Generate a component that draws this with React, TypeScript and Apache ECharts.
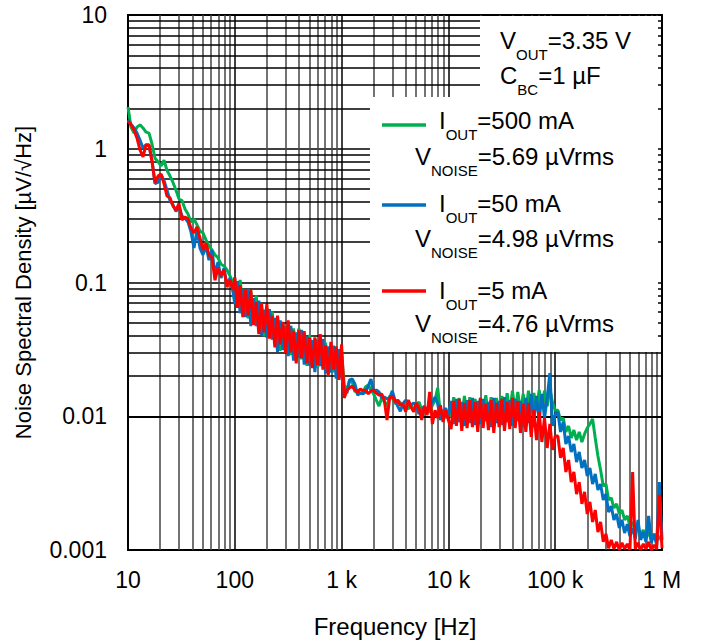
import React, { useEffect, useRef } from "react";
import * as echarts from "echarts";

// Frequency grid [Hz]
const FREQ_HZ = [
  10, 10.67, 11.38, 12.14, 12.95, 13.82, 14.74, 15.73, 16.78, 17.9, 19.1, 20.37, 21.73, 23.18, 24.73, 26.38, 28.15, 30.03, 32.03, 34.17, 36.45, 38.89, 41.49, 44.26, 47.22, 50.37, 53.74, 57.33, 61.16, 65.24, 69.6, 74.25, 79.21, 84.5, 90.15, 96.17,
  100, 105.9, 112.2, 118.9, 125.9, 133.4, 141.3, 149.6, 158.5, 167.9, 177.8, 188.4, 199.5, 211.3, 223.9, 237.1, 251.2, 266.1, 281.8, 298.5, 316.2, 335, 354.8, 375.8, 398.1, 421.7, 446.7, 473.2, 501.2, 530.9, 562.3, 595.7, 631, 668.3, 707.9, 749.9, 794.3, 841.4, 891.3, 944.1, 1000,
  1059, 1122, 1189, 1259, 1334, 1413, 1496, 1585, 1679, 1778, 1884, 1995, 2113, 2239, 2371, 2512, 2661, 2818, 2985, 3162, 3350, 3548, 3758, 3981, 4217, 4467, 4732, 5012, 5309, 5623, 5957, 6310, 6683, 7079, 7499, 7943, 8414, 8913, 9441, 10000,
  10590, 11220, 11890, 12590, 13340, 14130, 14960, 15850, 16790, 17780, 18840, 19950, 21130, 22390, 23710, 25120, 26610, 28180, 29850, 31620, 33500, 35480, 37580, 39810, 42170, 44670, 47320, 50120, 53090, 56230, 59570, 63100, 66830, 70790, 74990, 79430, 84140, 89130, 94410, 100000,
  105900, 112200, 118900, 125900, 133400, 141300, 149600, 158500, 167900, 177800, 188400, 199500, 211300, 223900, 237100, 251200, 266100, 281800, 298500, 316200, 335000, 354800, 375800, 398100, 421700, 446700, 473200, 501200, 530900, 562300, 595700, 631000, 668300, 707900, 749900, 794300, 841400, 891300, 944100, 1000000,
];

// Noise spectral density [µV/√Hz], IOUT = 500 mA
const NOISE_500MA = [
  2.05, 1.45, 1.31, 1.45, 1.51, 1.43, 1.33, 1.31, 1.085, 0.85, 0.8, 0.743, 0.82, 0.69, 0.625, 0.56, 0.49, 0.421, 0.41, 0.355, 0.325, 0.283, 0.298, 0.27, 0.243, 0.235, 0.208, 0.187, 0.175, 0.161, 0.153, 0.137, 0.133, 0.124, 0.112, 0.099,
  0.1069, 0.0692, 0.1047, 0.0647, 0.0893, 0.054, 0.0857, 0.0528, 0.0802, 0.0461, 0.0668, 0.0395, 0.0644, 0.0418, 0.0607, 0.0351, 0.054, 0.0308, 0.0495, 0.0324, 0.0499, 0.0286, 0.0454, 0.0299, 0.0453, 0.0266, 0.0394, 0.0238, 0.0406, 0.0256, 0.038, 0.0231, 0.0385, 0.0244, 0.0355, 0.021, 0.0336, 0.0213, 0.0332, 0.0215, 0.0299,
  0.0171, 0.0157, 0.0187, 0.018, 0.0152, 0.0157, 0.0147, 0.0152, 0.0166, 0.0171, 0.0157, 0.0147, 0.0132, 0.0119, 0.0137, 0.0128, 0.0119, 0.0142, 0.0137, 0.0124, 0.0132, 0.0126, 0.0117, 0.0121, 0.0113, 0.0124, 0.0111, 0.0119, 0.0128, 0.0113, 0.0108, 0.0115, 0.0106, 0.0121, 0.0132, 0.0163, 0.0104, 0.0111, 0.0097, 0.0108,
  0.00986, 0.0139, 0.00953, 0.0137, 0.0097, 0.0142, 0.01, 0.0139, 0.00953, 0.0135, 0.00937, 0.0137, 0.00986, 0.0144, 0.01, 0.0139, 0.0097, 0.0137, 0.0102, 0.0142, 0.0104, 0.0149, 0.0106, 0.0155, 0.0108, 0.0152, 0.0106, 0.0147, 0.0109, 0.0155, 0.0108, 0.0149, 0.0111, 0.0157, 0.0115, 0.0155, 0.0119, 0.016, 0.0126, 0.0111,
  0.0111, 0.00937, 0.0097, 0.00763, 0.00846, 0.00688, 0.00789, 0.00664, 0.00763, 0.00642, 0.00737, 0.00817, 0.00875, 0.00953, 0.00688, 0.00505, 0.00396, 0.00301, 0.00311, 0.00237, 0.00245, 0.00206, 0.00221, 0.00186, 0.00199, 0.00168, 0.0018, 0.00151, 0.00162, 0.00136, 0.00149, 0.00129, 0.00141, 0.00123, 0.00136, 0.00119, 0.00132, 0.00117, 0.00127, 0.00115,
];

// IOUT = 50 mA
const NOISE_50MA = [
  1.64, 1.53, 1.43, 1.31, 1.16, 1.01, 1.07, 1.05, 0.82, 0.55, 0.56, 0.64, 0.58, 0.49, 0.41, 0.38, 0.34, 0.37, 0.315, 0.303, 0.283, 0.239, 0.181, 0.247, 0.181, 0.161, 0.187, 0.147, 0.175, 0.114, 0.142, 0.108, 0.128, 0.096, 0.108, 0.085,
  0.069, 0.1023, 0.0589, 0.0893, 0.0551, 0.0895, 0.0471, 0.0764, 0.0472, 0.0731, 0.0403, 0.0627, 0.0388, 0.0632, 0.0374, 0.0543, 0.0303, 0.0522, 0.0313, 0.0469, 0.0281, 0.0475, 0.0261, 0.0423, 0.0273, 0.0442, 0.0243, 0.0395, 0.0239, 0.0371, 0.0214, 0.0374, 0.0237, 0.0378, 0.0209, 0.0333, 0.0212, 0.0337, 0.0191, 0.0318, 0.0198,
  0.0157, 0.0149, 0.0187, 0.019, 0.0174, 0.0144, 0.0149, 0.0147, 0.0152, 0.0168, 0.019, 0.0152, 0.0157, 0.0152, 0.0137, 0.0139, 0.0135, 0.0137, 0.0155, 0.0132, 0.0119, 0.0109, 0.0124, 0.0132, 0.0128, 0.0121, 0.0126, 0.0119, 0.0104, 0.0111, 0.0119, 0.0108, 0.0117, 0.0128, 0.0139, 0.0124, 0.00937, 0.0108, 0.0115, 0.01,
  0.013, 0.00875, 0.0135, 0.00906, 0.0128, 0.00846, 0.0132, 0.0089, 0.0137, 0.0086, 0.013, 0.00875, 0.0135, 0.00921, 0.0128, 0.00831, 0.0137, 0.0089, 0.013, 0.0086, 0.0139, 0.00906, 0.0132, 0.00846, 0.0135, 0.00921, 0.013, 0.00831, 0.0137, 0.0089, 0.0147, 0.00937, 0.0142, 0.00921, 0.0147, 0.0097, 0.0137, 0.021, 0.00846, 0.0102,
  0.0108, 0.00763, 0.00906, 0.0062, 0.00712, 0.00541, 0.0062, 0.00455, 0.00541, 0.0041, 0.00471, 0.00357, 0.0041, 0.00311, 0.0037, 0.00281, 0.00311, 0.00237, 0.00262, 0.00192, 0.00213, 0.00168, 0.00186, 0.00146, 0.00168, 0.00134, 0.00156, 0.00127, 0.00146, 0.00121, 0.00168, 0.00119, 0.00136, 0.00115, 0.0018, 0.00113, 0.00132, 0.00109, 0.00322, 0.00119,
];

// IOUT = 5 mA
const NOISE_5MA = [
  1.61, 1.51, 1.38, 1.2, 0.98, 0.868, 1.07, 1.07, 0.8, 0.56, 0.625, 0.647, 0.55, 0.443, 0.43, 0.373, 0.348, 0.39, 0.293, 0.309, 0.298, 0.255, 0.235, 0.26, 0.215, 0.175, 0.197, 0.161, 0.153, 0.104, 0.128, 0.112, 0.124, 0.0925, 0.104, 0.088,
  0.1094, 0.0646, 0.0955, 0.0551, 0.0893, 0.0565, 0.0877, 0.0482, 0.0714, 0.0411, 0.07, 0.0424, 0.069, 0.0381, 0.0566, 0.0327, 0.0565, 0.0345, 0.0507, 0.0296, 0.0522, 0.03, 0.0434, 0.0249, 0.0443, 0.0272, 0.0433, 0.0249, 0.0387, 0.0229, 0.0389, 0.0242, 0.0412, 0.0223, 0.0339, 0.0201, 0.036, 0.0223, 0.0332, 0.0187, 0.0344,
  0.0137, 0.0157, 0.0163, 0.0168, 0.0157, 0.0152, 0.016, 0.0155, 0.0157, 0.0147, 0.0155, 0.0157, 0.0149, 0.0144, 0.0147, 0.0132, 0.00937, 0.0137, 0.0142, 0.0128, 0.0132, 0.0121, 0.0124, 0.0108, 0.0132, 0.0117, 0.0108, 0.0126, 0.0115, 0.00937, 0.0119, 0.0102, 0.0152, 0.00875, 0.0111, 0.0097, 0.0121, 0.00906, 0.0111, 0.00937,
  0.00803, 0.013, 0.00846, 0.0135, 0.00776, 0.0126, 0.00817, 0.0132, 0.00831, 0.0128, 0.00763, 0.0137, 0.00817, 0.0124, 0.00789, 0.0132, 0.0075, 0.0126, 0.00831, 0.0135, 0.00776, 0.0128, 0.00803, 0.0137, 0.00817, 0.013, 0.0075, 0.0124, 0.00763, 0.0126, 0.007, 0.0111, 0.00664, 0.0108, 0.00642, 0.0097, 0.00579, 0.00875, 0.0056, 0.00712,
  0.00712, 0.00488, 0.00579, 0.00383, 0.00471, 0.00322, 0.00383, 0.00262, 0.00322, 0.00221, 0.00272, 0.00186, 0.00229, 0.00162, 0.00199, 0.00136, 0.00162, 0.00115, 0.00132, 0.00103, 0.00119, 0.00102, 0.00115, 0.001, 0.00113, 0.00102, 0.00111, 0.001, 0.00383, 0.00102, 0.00113, 0.001, 0.00111, 0.00102, 0.00115, 0.001, 0.00109, 0.00102, 0.00258, 0.00103,
];

const SERIES_NAMES = ["IOUT=500 mA", "IOUT=50 mA", "IOUT=5 mA"];
const SERIES_COLORS = ["#00B050", "#0070C0", "#FF0000"];
const SERIES_CURRENT = ["500 mA", "50 mA", "5 mA"];
const SERIES_VNOISE = ["5.69 µVrms", "4.98 µVrms", "4.76 µVrms"];

const X_TICK_LABELS = ["10", "100", "1 k", "10 k", "100 k", "1 M"];
const Y_TICK_LABELS = ["0.001", "0.01", "0.1", "1", "10"];

const X_MINOR = [
  20, 30, 40, 50, 60, 70, 80, 90,
  200, 300, 400, 500, 600, 700, 800, 900,
  2000, 3000, 4000, 5000, 6000, 7000, 8000, 9000,
  20000, 30000, 40000, 50000, 60000, 70000, 80000, 90000,
  200000, 300000, 400000, 500000, 600000, 700000, 800000, 900000,
];
const Y_MINOR = [
  0.002, 0.003, 0.004, 0.005, 0.006, 0.007, 0.008, 0.009,
  0.02, 0.03, 0.04, 0.05, 0.06, 0.07, 0.08, 0.09,
  0.2, 0.3, 0.4, 0.5, 0.6, 0.7, 0.8, 0.9,
  2, 3, 4, 5, 6, 7, 8, 9,
];

const FONT = "'Liberation Sans', Arial, Helvetica, sans-serif";

function zip(vals: number[]) {
  return FREQ_HZ.map((f, i) => [f, vals[i]]);
}

const SERIES_VALUES = [NOISE_500MA, NOISE_50MA, NOISE_5MA];

const RICH = {
  m: { fontSize: 24, fontFamily: FONT, lineHeight: 44, fill: "#000" },
  s: { fontSize: 15, fontFamily: FONT, lineHeight: 17, verticalAlign: "bottom", fill: "#000" },
};

function richText(x: number, y: number, text: string) {
  return {
    type: "text",
    x,
    y,
    z: 20,
    silent: true,
    style: { text, rich: RICH, align: "left", verticalAlign: "middle", fill: "#000" },
  };
}

export default function App() {
  const ref = useRef<HTMLDivElement>(null);
  useEffect(() => {
    if (!ref.current) return;
    const chart = echarts.init(ref.current, null, { renderer: "svg" });
    const decadeIdx = (v: number, base: number) => Math.round(Math.log10(v)) - base;

    const legendItems: any[] = [];
    const rowY = [120, 203, 290];
    const subY = [156, 238, 323];
    const lineY = [125, 205, 291];
    SERIES_NAMES.forEach((_, i) => {
      legendItems.push({
        type: "line",
        z: 20,
        silent: true,
        shape: { x1: 382, y1: lineY[i], x2: 426, y2: lineY[i] },
        style: { stroke: SERIES_COLORS[i], lineWidth: 3.5 },
      });
      legendItems.push(richText(439, rowY[i], `{m|I}{s|OUT}{m|=${SERIES_CURRENT[i]}}`));
      legendItems.push(richText(415, subY[i], `{m|V}{s|NOISE}{m|=${SERIES_VNOISE[i]}}`));
    });

    const option: any = {
      animation: false,
      backgroundColor: "#fff",
      grid: { left: 128, right: 40, top: 15, bottom: 94, show: true, borderColor: "#000", borderWidth: 2, containLabel: false },
      xAxis: {
        type: "log",
        logBase: 10,
        min: 10,
        max: 1000000,
        name: "Frequency [Hz]",
        nameLocation: "middle",
        nameGap: 64,
        nameTextStyle: { fontFamily: FONT, fontSize: 24, color: "#000" },
        axisLine: { show: true, lineStyle: { color: "#000", width: 2 } },
        axisTick: { show: false },
        axisLabel: {
          margin: 18,
          fontFamily: FONT,
          fontSize: 23,
          color: "#000",
          formatter: (v: number) => X_TICK_LABELS[decadeIdx(v, 1)] ?? "",
        },
        splitLine: { show: true, lineStyle: { color: "#000", width: 1.5 } },
      },
      yAxis: {
        type: "log",
        logBase: 10,
        min: 0.001,
        max: 10,
        name: "Noise Spectral Density [µV/√Hz]",
        nameLocation: "middle",
        nameGap: 94,
        nameTextStyle: { fontFamily: FONT, fontSize: 22, color: "#000" },
        axisLine: { show: true, lineStyle: { color: "#000", width: 2 } },
        axisTick: { show: false },
        axisLabel: {
          margin: 21,
          fontFamily: FONT,
          fontSize: 23,
          color: "#000",
          formatter: (v: number) => Y_TICK_LABELS[decadeIdx(v, -3)] ?? "",
        },
        splitLine: { show: true, lineStyle: { color: "#000", width: 1.5 } },
      },
      series: [
        {
          type: "line",
          name: "minor-grid-x",
          data: [],
          silent: true,
          z: 1,
          markLine: {
            silent: true,
            z: 1,
            symbol: ["none", "none"],
            label: { show: false },
            emphasis: { disabled: true },
            lineStyle: { color: "#444", width: 1.5, type: "solid" },
            data: X_MINOR.map((v) => ({ xAxis: v })),
          },
        },
        {
          type: "line",
          name: "minor-grid-y",
          data: [],
          silent: true,
          z: 1,
          markLine: {
            silent: true,
            z: 1,
            symbol: ["none", "none"],
            label: { show: false },
            emphasis: { disabled: true },
            lineStyle: { color: "#000", width: 1.5, type: "solid" },
            data: Y_MINOR.map((v) => ({ yAxis: v })),
          },
        },
        ...SERIES_NAMES.map((name, i) => ({
          type: "line",
          name,
          z: 3 + i,
          data: zip(SERIES_VALUES[i]),
          showSymbol: false,
          symbol: "none",
          lineStyle: { color: SERIES_COLORS[i], width: 3 },
          itemStyle: { color: SERIES_COLORS[i] },
          emphasis: { disabled: true },
        })),
      ],
      graphic: [
        {
          type: "polygon",
          z: 10,
          silent: true,
          shape: { points: [[480, 16], [658, 16], [658, 352], [370, 352], [370, 97], [480, 97]] },
          style: { fill: "#fff", stroke: "none" },
        },
        richText(500, 40, "{m|V}{s|OUT}{m|=3.35 V}"),
        richText(500, 75, "{m|C}{s|BC}{m|=1 µF}"),
        ...legendItems,
      ],
    };
    chart.setOption(option);
    return () => chart.dispose();
  }, []);
  return (
    <div
      ref={ref}
      style={{ position: "fixed", left: 0, top: 0, width: 702, height: 644, background: "#fff" }}
    />
  );
}
